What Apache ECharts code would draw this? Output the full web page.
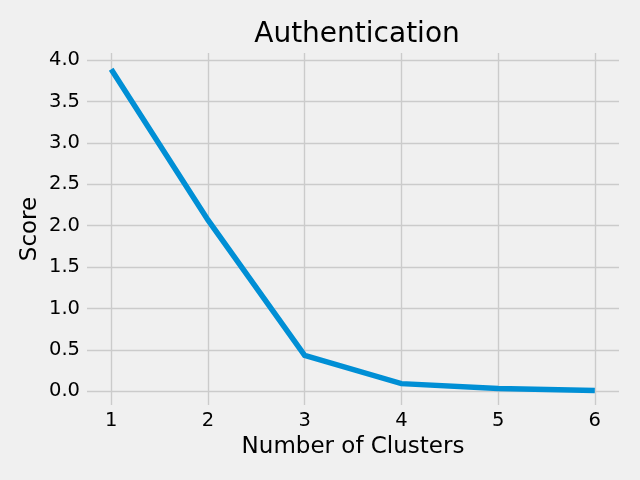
<!DOCTYPE html>
<html>
<head>
<meta charset="utf-8">
<script src="https://cdn.jsdelivr.net/npm/echarts@6/dist/echarts.min.js"></script>
<style>
  html, body { margin: 0; padding: 0; background: #f0f0f0; }
  #chart { width: 640px; height: 480px; }
</style>
</head>
<body>
<div id="chart"></div>
<script>
// elbow curve values
const clusters = [1, 2, 3, 4, 5, 6]
const scores = [3.89, 2.07, 0.435, 0.093, 0.035, 0.01]
const yTicks = [0, 0.5, 1, 1.5, 2, 2.5, 3, 3.5, 4]

const font = 'DejaVu Sans'
const chart = echarts.init(document.getElementById('chart'))

chart.setOption({
  backgroundColor: '#f0f0f0',
  animation: false,
  title: {
    text: 'Authentication',
    left: 352,
    textAlign: 'center',
    top: 16,
    textStyle: { fontFamily: font, fontSize: 28, fontWeight: 'normal', color: '#000' },
  },
  grid: { left: 87, right: 21, top: 53, bottom: 75 },
  xAxis: {
    type: 'value',
    min: 0.75,
    max: 6.25,
    name: 'Number of Clusters',
    nameLocation: 'middle',
    nameGap: 31,
    nameTextStyle: { fontFamily: font, fontSize: 23, color: '#000' },
    axisLine: { show: false },
    axisTick: { show: false, customValues: clusters },
    axisLabel: {
      customValues: clusters,
      margin: 6,
      fontFamily: font,
      fontSize: 19.5,
      color: '#000',
    },
    splitLine: { show: true, lineStyle: { color: '#cbcbcb', width: 1.4 } },
  },
  yAxis: {
    type: 'value',
    min: -0.165,
    max: 4.085,
    name: 'Score',
    nameLocation: 'middle',
    nameMoveOverlap: false,
    nameGap: 45,
    nameTextStyle: { fontFamily: font, fontSize: 23, color: '#000' },
    axisLine: { show: false },
    axisTick: { show: false, customValues: yTicks },
    axisLabel: {
      customValues: yTicks,
      margin: 7,
      fontFamily: font,
      fontSize: 19.5,
      color: '#000',
      formatter: v => v.toFixed(1),
    },
    splitLine: { show: true, lineStyle: { color: '#cbcbcb', width: 1.4 } },
  },
  series: [{
    type: 'line',
    data: clusters.map((c, i) => [c, scores[i]]),
    symbol: 'none',
    lineStyle: { color: '#008fd5', width: 5.5, cap: 'butt', join: 'miter' },
  }],
})
</script>
</body>
</html>
